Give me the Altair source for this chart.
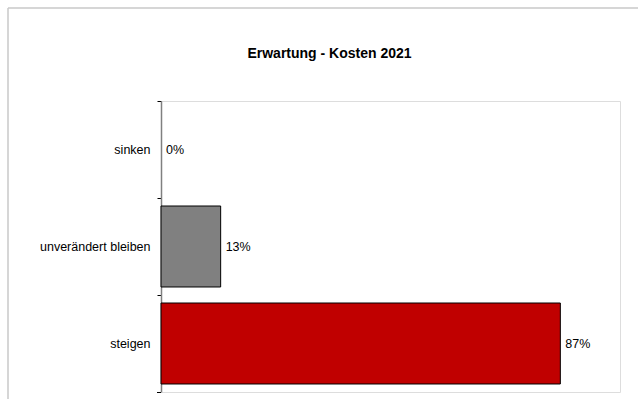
import altair as alt
import pandas as pd

categories = ["sinken", "unverändert bleiben", "steigen"]
values = [0.0, 0.13, 0.87]
labels = ["0%", "13%", "87%"]
bar_colors = ["#808080", "#808080", "#C00000"]

df = pd.DataFrame({"cat": categories, "val": values, "lab": labels, "col": bar_colors})

FONT = "Liberation Sans"

y_enc = alt.Y("cat:N", sort=categories, title=None,
              scale=alt.Scale(paddingInner=0, paddingOuter=0),
              axis=alt.Axis(bandPosition=0, domainColor="#808080", domainWidth=1.5,
                            tickColor="#000000", tickSize=4, tickWidth=1,
                            labelFont=FONT, labelFontSize=12.5, labelColor="#000000",
                            labelPadding=7, grid=False))
x_enc = alt.X("val:Q", title=None, scale=alt.Scale(domain=[0, 1], nice=False), axis=None)

bars = alt.Chart(df).transform_filter("datum.val > 0").mark_bar(
    height={"band": 0.835}, stroke="#000000", strokeWidth=1
).encode(
    y=y_enc, x=x_enc,
    color=alt.Color("col:N", scale=None),
)

text = alt.Chart(df).mark_text(
    align="left", baseline="middle", dx=5, font=FONT, fontSize=12.5, color="#000000"
).encode(y=y_enc, x=x_enc, text="lab:N")

one = alt.Data(values=[{"k": 1}])
bottom_tick = alt.Chart(one).mark_rule(color="#000000", strokeWidth=1).encode(
    x=alt.value(-4), x2=alt.value(0), y=alt.value(291.5))
border_top = alt.Chart(one).mark_rule(color="#c8c8c8", strokeWidth=1.5).encode(
    x=alt.value(-153), x2=alt.value(480), y=alt.value(-93))
border_left = alt.Chart(one).mark_rule(color="#c8c8c8", strokeWidth=1.5).encode(
    x=alt.value(-153), y=alt.value(-93), y2=alt.value(300))

chart = alt.layer(border_top, border_left, bars, text, bottom_tick).properties(
    width=459, height=291,
    autosize=alt.AutoSizeParams(type="none"),
    padding={"left": 161, "top": 101, "right": 18, "bottom": 7},
    title=alt.TitleParams("Erwartung - Kosten 2021", font=FONT, fontSize=14,
                          fontWeight="bold", color="#000000", anchor="middle",
                          frame="group", dx=-61, offset=-54),
).configure_view(strokeWidth=0, stroke="transparent").configure(background="#ffffff")

chart.save("out.html", embed_options={"renderer": "svg", "actions": False})
